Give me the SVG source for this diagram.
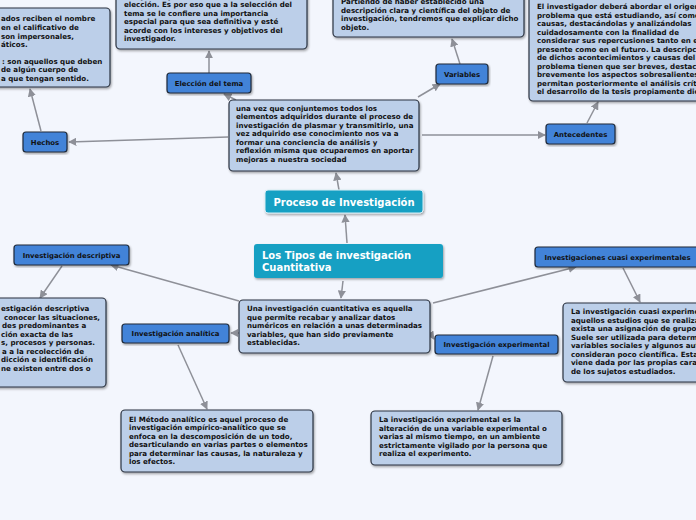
<svg xmlns="http://www.w3.org/2000/svg" width="696" height="520" viewBox="0 0 696 520">
<style>
.bg{fill:#f3f6fd}
.box{fill:#bccfe9;stroke:#2b3340;stroke-width:1.2}
.node{fill:#4283d8;stroke:#1e2a3a;stroke-width:1.2}
.teal{fill:#17a0c3;stroke:#d8eef5;stroke-width:1}
.t{font-family:"DejaVu Sans",Verdana,sans-serif;font-weight:bold;font-size:7.1px;fill:#111}
.nl{font-family:"DejaVu Sans",Verdana,sans-serif;font-weight:bold;font-size:6.9px;fill:#111;text-anchor:middle}
.tl{font-family:"DejaVu Sans",Verdana,sans-serif;font-weight:bold;font-size:10px;fill:#fff}
.c{fill:none;stroke:#8e9098;stroke-width:1.5;marker-end:url(#ah)}
</style>
<defs>
<marker id="ah" viewBox="0 0 10 10" refX="9" refY="5" markerWidth="5.5" markerHeight="5.5" orient="auto" markerUnits="strokeWidth">
<path d="M0,0 L10,5 L0,10 z" fill="#8e9098"/>
</marker>
<filter id="sh" x="-5%" y="-5%" width="110%" height="120%">
<feDropShadow dx="1" dy="1.5" stdDeviation="0.8" flood-color="#000" flood-opacity="0.35"/>
</filter>
</defs>
<rect class="bg" x="0" y="0" width="696" height="520"/>
<g id="connectors">
<path class="c" d="M228,137 L69,142"/>
<path class="c" d="M41,131 L30,89"/>
<path class="c" d="M236,100 L224,94"/>
<path class="c" d="M209,73 L209,51"/>
<path class="c" d="M418,97 L440,84"/>
<path class="c" d="M460,64 L452,39"/>
<path class="c" d="M422,135 L545,135"/>
<path class="c" d="M587,123 L598,102"/>
<path class="c" d="M339,190 L336,173"/>
<path class="c" d="M347,243 L345,215"/>
<path class="c" d="M343,281 L341,298"/>
<path class="c" d="M239,301 L111,265"/>
<path class="c" d="M62,266 L40,298"/>
<path class="c" d="M239,333 L231,333"/>
<path class="c" d="M178,345 L207,409"/>
<path class="c" d="M430,333 L434,339"/>
<path class="c" d="M493,356 L478,410"/>
<path class="c" d="M433,303 L576,267"/>
<path class="c" d="M623,268 L640,302"/>
</g>
<g id="hechos-desc">
<rect class="box" filter="url(#sh)" x="-10" y="8" width="120" height="79" rx="4"/>
<text class="t"><tspan x="1" y="21">ados reciben el nombre</tspan><tspan x="1" y="30">en el calificativo de</tspan><tspan x="1" y="38.5">son impersonales,</tspan><tspan x="1" y="47">áticos.</tspan><tspan x="2" y="63.5">: son aquellos que deben</tspan><tspan x="1" y="72">de algún cuerpo de</tspan><tspan x="1" y="80.5">a que tengan sentido.</tspan></text>
</g>
<g id="eleccion-desc">
<rect class="box" filter="url(#sh)" x="116" y="-10" width="191" height="59" rx="4"/>
<text class="t"><tspan x="124" y="-1.5">campo, lo que dificulta todavía más la</tspan><tspan x="124" y="7">elección. Es por eso que a la selección del</tspan><tspan x="124" y="15.5">tema se le confiere una importancia</tspan><tspan x="124" y="24">especial para que sea definitiva y esté</tspan><tspan x="124" y="32.5">acorde con los intereses y objetivos del</tspan><tspan x="124" y="41">investigador.</tspan></text>
</g>
<g id="variables-desc">
<rect class="box" filter="url(#sh)" x="333" y="-10" width="191" height="47" rx="4"/>
<text class="t"><tspan x="341" y="4">Partiendo de haber establecido una</tspan><tspan x="341" y="12.5">descripción clara y científica del objeto de</tspan><tspan x="341" y="21">investigación, tendremos que explicar dicho</tspan><tspan x="341" y="29.5">objeto.</tspan></text>
</g>
<g id="antecedentes-desc">
<rect class="box" filter="url(#sh)" x="529" y="-10" width="180" height="111" rx="4"/>
<text class="t"><tspan x="537" y="9">El investigador deberá abordar el origen</tspan><tspan x="537" y="17.5">problema que está estudiando, así como</tspan><tspan x="537" y="26">causas, destacándolas y analizándolas</tspan><tspan x="537" y="34.5">cuidadosamente con la finalidad de</tspan><tspan x="537" y="43">considerar sus repercusiones tanto en el</tspan><tspan x="537" y="51.5">presente como en el futuro. La descripci</tspan><tspan x="537" y="60">de dichos acontecimientos y causas del</tspan><tspan x="537" y="68.5">problema tienen que ser breves, destaca</tspan><tspan x="537" y="77">brevemente los aspectos sobresalientes</tspan><tspan x="537" y="85.5">permitan posteriormente el análisis críti</tspan><tspan x="537" y="94">el desarrollo de la tesis propiamente dic</tspan></text>
</g>
<g id="hechos">
<rect class="node" filter="url(#sh)" x="23" y="132" width="44" height="20" rx="3"/>
<text class="nl" x="45" y="144.5">Hechos</text>
</g>
<g id="eleccion">
<rect class="node" filter="url(#sh)" x="167" y="73" width="84" height="20" rx="3"/>
<text class="nl" x="209" y="85.5">Elección del tema</text>
</g>
<g id="variables">
<rect class="node" filter="url(#sh)" x="436" y="64" width="52" height="20" rx="3"/>
<text class="nl" x="462" y="76.5">Variables</text>
</g>
<g id="antecedentes">
<rect class="node" filter="url(#sh)" x="546" y="124" width="69" height="20" rx="3"/>
<text class="nl" x="580.5" y="136.5">Antecedentes</text>
</g>
<g id="proceso-desc">
<rect class="box" filter="url(#sh)" x="229" y="100" width="190" height="71" rx="4"/>
<text class="t"><tspan x="236" y="110.5">una vez que conjuntemos todos los</tspan><tspan x="236" y="119">elementos adquiridos durante el proceso de</tspan><tspan x="236" y="127.5">investigación de plasmar y transmitirlo, una</tspan><tspan x="236" y="136">vez adquirido ese conocimiento nos va a</tspan><tspan x="236" y="144.5">formar una conciencia de análisis y</tspan><tspan x="236" y="153">reflexión misma que ocuparemos en aportar</tspan><tspan x="236" y="161.5">mejoras a nuestra sociedad</tspan></text>
</g>
<g id="proceso">
<rect class="teal" filter="url(#sh)" x="265" y="190" width="158" height="23" rx="3"/>
<text class="tl" x="344" y="205.5" text-anchor="middle">Proceso de Investigación</text>
</g>
<g id="tipos">
<rect class="teal" filter="url(#sh)" x="254" y="244" width="189" height="34" rx="3" style="stroke:none"/>
<text class="tl"><tspan x="262" y="258.5">Los Tipos de investigación</tspan><tspan x="262" y="271">Cuantitativa</tspan></text>
</g>
<g id="cuantitativa-desc">
<rect class="box" filter="url(#sh)" x="239" y="300" width="191" height="53" rx="4"/>
<text class="t"><tspan x="247" y="311">Una investigación cuantitativa es aquella</tspan><tspan x="247" y="319.5">que permite recabar y analizar datos</tspan><tspan x="247" y="328">numéricos en relación a unas determinadas</tspan><tspan x="247" y="336.5">variables, que han sido previamente</tspan><tspan x="247" y="345">establecidas.</tspan></text>
</g>
<g id="descriptiva">
<rect class="node" filter="url(#sh)" x="14" y="245" width="115" height="20" rx="3"/>
<text class="nl" x="71.5" y="257.5">Investigación descriptiva</text>
</g>
<g id="descriptiva-desc">
<rect class="box" filter="url(#sh)" x="-10" y="298" width="116" height="89" rx="4"/>
<text class="t"><tspan x="1" y="311">estigación descriptiva</tspan><tspan x="4" y="319.5">conocer las situaciones,</tspan><tspan x="2" y="328">des predominantes a</tspan><tspan x="1" y="336.5">ción exacta de las</tspan><tspan x="1" y="345">s, procesos y personas.</tspan><tspan x="2" y="353.5">a a la recolección de</tspan><tspan x="1" y="362">dicción e identificación</tspan><tspan x="1" y="370.5">ne existen entre dos o</tspan></text>
</g>
<g id="analitica">
<rect class="node" filter="url(#sh)" x="122" y="324" width="107" height="19" rx="3"/>
<text class="nl" x="175.5" y="336">Investigación analítica</text>
</g>
<g id="analitica-desc">
<rect class="box" filter="url(#sh)" x="121" y="410" width="192" height="62" rx="4"/>
<text class="t"><tspan x="129" y="421.5">El Método analítico es aquel proceso de</tspan><tspan x="129" y="430">investigación empírico-analítico que se</tspan><tspan x="129" y="438.5">enfoca en la descomposición de un todo,</tspan><tspan x="129" y="447">desarticulando en varias partes o elementos</tspan><tspan x="129" y="455.5">para determinar las causas, la naturaleza y</tspan><tspan x="129" y="464">los efectos.</tspan></text>
</g>
<g id="experimental">
<rect class="node" filter="url(#sh)" x="435" y="335" width="123" height="19" rx="3"/>
<text class="nl" x="496.5" y="347">Investigación experimental</text>
</g>
<g id="experimental-desc">
<rect class="box" filter="url(#sh)" x="371" y="411" width="191" height="54" rx="4"/>
<text class="t"><tspan x="379" y="422">La investigación experimental es la</tspan><tspan x="379" y="430.5">alteración de una variable experimental o</tspan><tspan x="379" y="439">varias al mismo tiempo, en un ambiente</tspan><tspan x="379" y="447.5">estrictamente vigilado por la persona que</tspan><tspan x="379" y="456">realiza el experimento.</tspan></text>
</g>
<g id="cuasi">
<rect class="node" filter="url(#sh)" x="535" y="247" width="165" height="20" rx="3"/>
<text class="nl" x="617.5" y="259.5">Investigaciones cuasi experimentales</text>
</g>
<g id="cuasi-desc">
<rect class="box" filter="url(#sh)" x="563" y="303" width="146" height="79" rx="4"/>
<text class="t"><tspan x="571" y="314">La investigación cuasi experime</tspan><tspan x="571" y="322.5">aquellos estudios que se realiza</tspan><tspan x="571" y="331">exista una asignación de grupos</tspan><tspan x="571" y="339.5">Suele ser utilizada para determi</tspan><tspan x="571" y="348">variables sociales y algunos aut</tspan><tspan x="571" y="356.5">consideran poco científica. Esta</tspan><tspan x="571" y="365">viene dada por las propias carac</tspan><tspan x="571" y="373.5">de los sujetos estudiados.</tspan></text>
</g>
</svg>
